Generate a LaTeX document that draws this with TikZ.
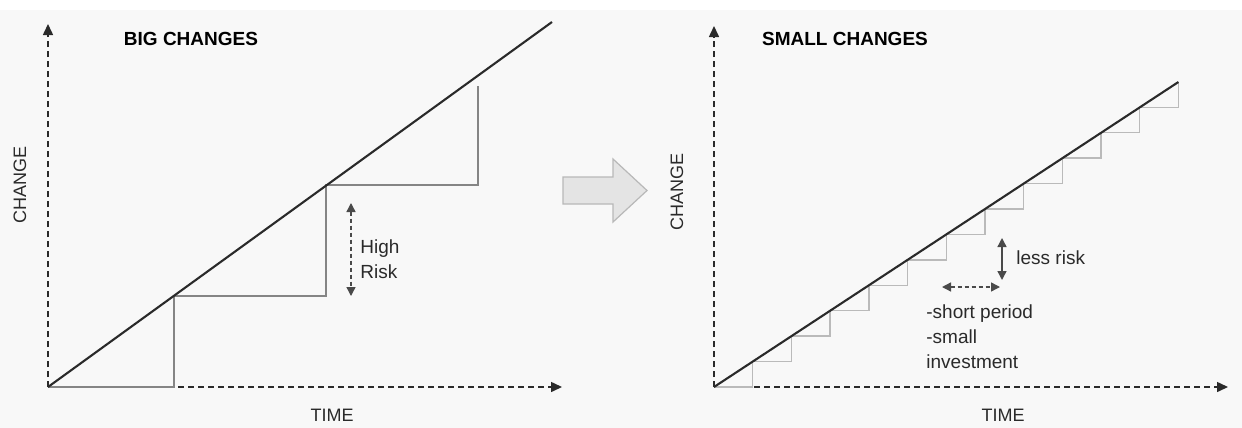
\documentclass[tikz,border=0pt]{standalone}
\usepackage{fontspec}
\setmainfont{Liberation Sans}
\usepackage{tikz}
\usetikzlibrary{arrows.meta,calc,positioning}
\definecolor{ink}{HTML}{2A2A2A}
\definecolor{bigstep}{HTML}{858585}
\definecolor{smallstep}{HTML}{BABABA}
\definecolor{paper}{HTML}{F8F8F8}
\definecolor{shift}{HTML}{E4E4E4}
\definecolor{shiftline}{HTML}{B8B8B8}

\begin{document}
\begin{tikzpicture}[x=0.5pt,y=-0.5pt,
  axis/.style={ink,line width=0.75pt,dash pattern=on 3pt off 2pt,-{Triangle[length=5.5pt,width=5pt]}},
  trend/.style={ink,line width=1.05pt},
  riskarrow/.style={ink!85,line width=0.7pt,{Triangle[length=4.5pt,width=4.5pt]}-{Triangle[length=4.5pt,width=4.5pt]}},
  title/.style={font=\fontsize{9.5}{11}\selectfont\bfseries,text=black,inner sep=0pt},
  label/.style={font=\fontsize{9}{11}\selectfont,text=ink,inner sep=0pt},
  note/.style={font=\fontsize{9.5}{12.5}\selectfont,text=ink,inner sep=0pt,align=left,anchor=west}]
  \useasboundingbox (0,0) rectangle (1242,428);
  \fill[paper] (0,10) rectangle (1242,428);

  % big changes
  \coordinate (O1) at (48,387); \coordinate (Y1) at (48,24); \coordinate (X1) at (562,387);
  \coordinate (T1) at (552,22);
  \draw[axis] (O1) -- (Y1); \draw[axis] (O1) -- (X1);
  \draw[bigstep,line width=0.85pt] (O1) -- (174,387) -- (174,296) -- (326,296) -- (326,185) -- (478,185) -- (478,86);
  \draw[trend] (O1) -- (T1);
  \node[title] (big) at (191,39) {BIG CHANGES};
  \node[label,rotate=90] (change1) at (20,185) {CHANGE};
  \node[label] (time1) at (332,415) {TIME};
  \coordinate (hr1) at (351,203); \coordinate (hr2) at (351,296);
  \draw[riskarrow,dash pattern=on 2pt off 1.5pt] (hr1) -- (hr2);
  \node[note] (high) at (360,259) {High\\Risk};

  % shift
  \draw[shiftline,fill=shift,line width=0.6pt] (563,177) -- (613,177) -- (613,159) -- (647,190.5) -- (613,222) -- (613,204) -- (563,204) -- cycle;

  % small changes
  \coordinate (O2) at (714,387); \coordinate (Y2) at (714,26); \coordinate (X2) at (1228,387);
  \coordinate (T2) at (1178.4,82);
  \draw[axis] (O2) -- (Y2); \draw[axis] (O2) -- (X2);
  \foreach \i in {1,...,12}{
    \pgfmathsetmacro\xa{714+38.7*(\i-1)}
    \pgfmathsetmacro\xb{714+38.7*\i}
    \pgfmathsetmacro\ya{387-0.657*38.7*(\i-1)}
    \pgfmathsetmacro\yb{387-0.657*38.7*\i}
    \draw[smallstep,line width=0.7pt] (\xa,\ya) -- (\xb,\ya) -- (\xb,\yb);
  }
  \draw[trend] (O2) -- (T2);
  \node[title] (small) at (845,39) {SMALL CHANGES};
  \node[label,rotate=90] (change2) at (677,192) {CHANGE};
  \node[label] (time2) at (1003,415) {TIME};
  \coordinate (lr1) at (1002,238); \coordinate (lr2) at (1002,280);
  \draw[riskarrow] (lr1) -- (lr2);
  \node[note] (less) at (1016,258) {less risk};
  \coordinate (sp1) at (942,287); \coordinate (sp2) at (1000,287);
  \draw[riskarrow,dash pattern=on 2pt off 1.5pt] (sp1) -- (sp2);
  \node[note] (period) at (926,337) {-short period\\-small\\investment};
\end{tikzpicture}
\end{document}
